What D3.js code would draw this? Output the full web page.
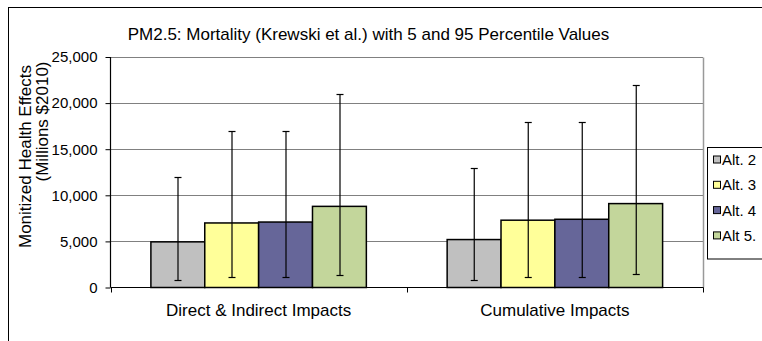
<!DOCTYPE html>
<html><head><meta charset="utf-8">
<script src="https://cdn.jsdelivr.net/npm/d3@7"></script>
<style>body{margin:0;background:#fff}svg{display:block;font-family:Arial,"Liberation Sans",sans-serif}</style>
</head><body><svg id="c" width="762" height="341"></svg>
<script>
const categories = ["Direct & Indirect Impacts", "Cumulative Impacts"];
const seriesNames = ["Alt. 2", "Alt. 3", "Alt. 4", "Alt 5."];
const seriesColors = ["#C0C0C0", "#FFFF99", "#666699", "#C3D69B"];
const meanValues = [[4950, 7000, 7100, 8800], [5200, 7300, 7400, 9100]];
const lowValues  = [[800, 1100, 1100, 1400], [800, 1100, 1100, 1500]];
const highValues = [[12000, 17000, 17000, 21000], [13000, 18000, 18000, 22000]];
const yTicks = [0, 5000, 10000, 15000, 20000, 25000];
const titleText = "PM2.5: Mortality (Krewski et al.) with 5 and 95 Percentile Values";
const yTitleLines = ["Monitized Health Effects", "(Millions $2010)"];

const svg = d3.select("#c");
// chart area border
svg.append("rect").attr("x", 8.5).attr("y", 7.5).attr("width", 800).attr("height", 400)
  .attr("fill", "#fff").attr("stroke", "#000").attr("stroke-width", 1);

const L = 110.5, R = 703, T = 57, B = 287.5;
const y = d3.scaleLinear().domain([0, 25000]).range([B, T]);
const x0 = d3.scaleBand().domain(categories).range([L, R]).padding(0);
const x1 = d3.scaleBand().domain(seriesNames).range([0, x0.bandwidth()]).paddingInner(0).paddingOuter(0.75);

// gridlines
svg.append("g").selectAll("line").data(yTicks.filter(d => d > 0)).join("line")
  .attr("x1", L).attr("x2", R).attr("y1", d => Math.round(y(d)) + 0.5).attr("y2", d => Math.round(y(d)) + 0.5)
  .attr("stroke", "#808080").attr("stroke-width", 1);
// plot border right
svg.append("line").attr("x1", R + 0.5).attr("x2", R + 0.5).attr("y1", T + 0.5).attr("y2", B)
  .attr("stroke", "#999").attr("stroke-width", 1.5);

// bars
const groups = svg.append("g").selectAll("g").data(categories).join("g")
  .attr("transform", d => `translate(${x0(d)},0)`);
groups.each(function(cat, ci) {
  const g = d3.select(this);
  seriesNames.forEach((s, si) => {
    const v = meanValues[ci][si];
    g.append("rect").attr("x", x1(s)).attr("y", y(v)).attr("width", x1.bandwidth()).attr("height", y(0) - y(v))
      .attr("fill", seriesColors[si]).attr("stroke", "#000").attr("stroke-width", 1.5);
  });
  seriesNames.forEach((s, si) => {
    const cx = Math.round(x1(s) + x1.bandwidth() / 2) + 0.5;
    const lo = Math.round(y(lowValues[ci][si])) + 0.5, hi = Math.round(y(highValues[ci][si])) + 0.5;
    g.append("line").attr("x1", cx).attr("x2", cx).attr("y1", lo).attr("y2", hi).attr("stroke", "#000").attr("stroke-width", 1.2);
    [lo, hi].forEach(yy => g.append("line").attr("x1", cx - 3.5).attr("x2", cx + 3.5).attr("y1", yy).attr("y2", yy)
      .attr("stroke", "#000").attr("stroke-width", 1.2));
  });
});

// y axis
const yAxis = d3.axisLeft(y).tickValues(yTicks).tickSize(5).tickPadding(8).tickFormat(d3.format(","));
const ya = svg.append("g").attr("transform", `translate(${L},0)`).call(yAxis);
ya.select(".domain").attr("stroke", "#000").attr("stroke-width", 1.2).attr("d", `M0,${T}V${B}`);
ya.selectAll(".tick line").attr("stroke", "#000");
ya.selectAll("text").attr("font-size", 15).attr("font-family", "Arial, 'Liberation Sans', sans-serif").attr("fill", "#000");

// x axis
const xa = svg.append("g").attr("transform", `translate(0,${B})`);
xa.append("line").attr("x1", L).attr("x2", R + 0.5).attr("y1", 0).attr("y2", 0).attr("stroke", "#000").attr("stroke-width", 1.2);
const xTickPos = categories.map(c => x0(c)).concat([x0(categories[categories.length - 1]) + x0.bandwidth()]);
xa.selectAll("line.t").data(xTickPos).join("line").attr("class", "t")
  .attr("x1", d => Math.round(d) + 0.5).attr("x2", d => Math.round(d) + 0.5).attr("y1", 0).attr("y2", 5).attr("stroke", "#000");
xa.selectAll("text").data(categories).join("text")
  .attr("x", d => x0(d) + x0.bandwidth() / 2).attr("y", 28).attr("text-anchor", "middle")
  .attr("font-size", 17).text(d => d);

// title
svg.append("text").attr("x", 368.5).attr("y", 40).attr("text-anchor", "middle").attr("font-size", 17).text(titleText);

// y title
svg.append("text").attr("transform", "translate(31,156.5) rotate(-90)").attr("text-anchor", "middle").attr("font-size", 17).text(yTitleLines[0]);
svg.append("text").attr("transform", "translate(48,121.5) rotate(-90)").attr("text-anchor", "middle").attr("font-size", 17).text(yTitleLines[1]);

// legend
const lg = svg.append("g");
lg.append("rect").attr("x", 707.5).attr("y", 147.5).attr("width", 80).attr("height", 111.5).attr("fill", "#fff").attr("stroke", "#000");
seriesNames.forEach((s, i) => {
  const cy = 159.5 + i * 25.3;
  lg.append("rect").attr("x", 713.5).attr("y", cy - 3.5).attr("width", 7).attr("height", 7)
    .attr("fill", seriesColors[i]).attr("stroke", "#000").attr("stroke-width", 1);
  lg.append("text").attr("x", 722).attr("y", cy + 5.5).attr("font-size", 15).text(s);
});
</script></body></html>
